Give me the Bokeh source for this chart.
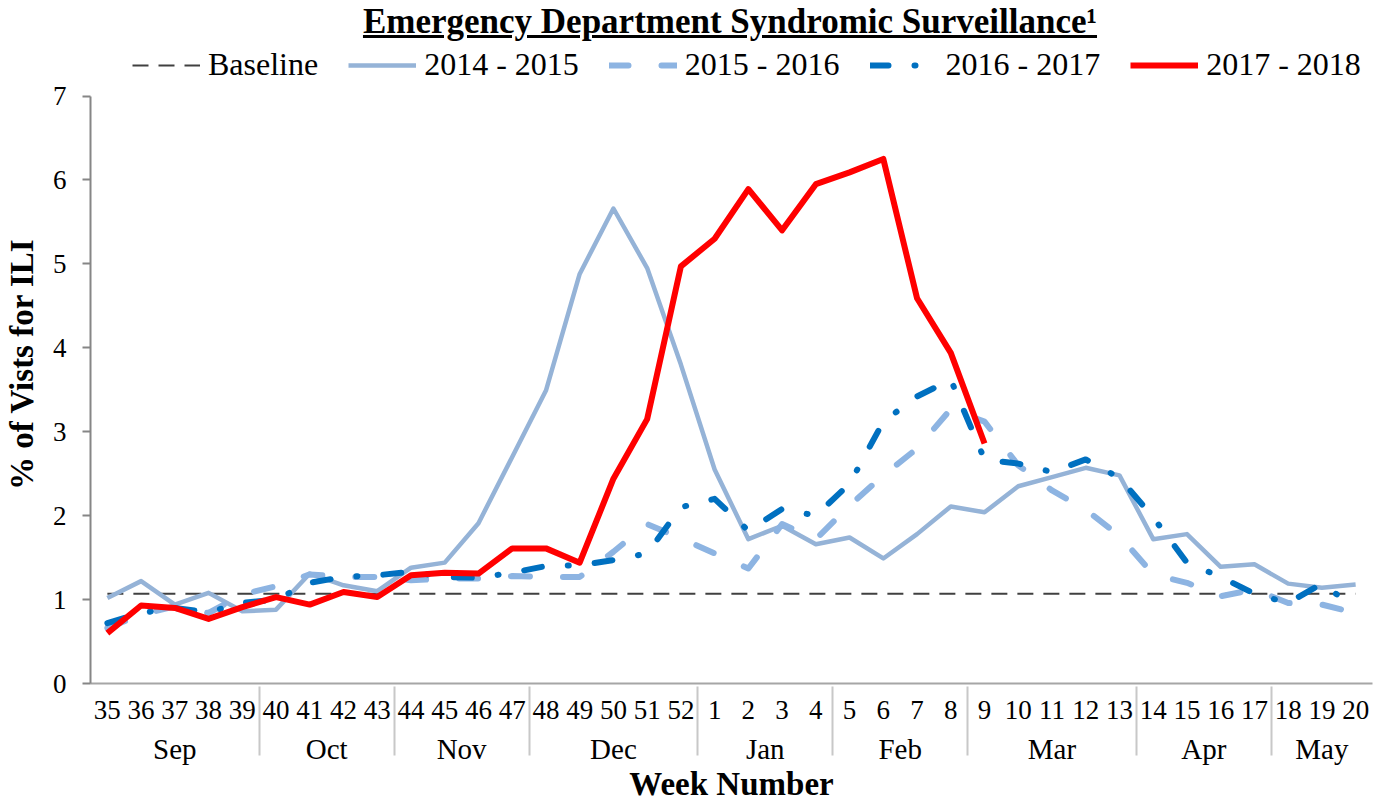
from bokeh.plotting import figure
from bokeh.models import FactorRange, Range1d, FixedTicker, Legend, LegendItem, Div
from bokeh.layouts import column
from bokeh.embed import file_html
from bokeh.resources import INLINE

WEEKS = ["35", "36", "37", "38", "39", "40", "41", "42", "43", "44", "45", "46", "47",
         "48", "49", "50", "51", "52", "1", "2", "3", "4", "5", "6", "7", "8", "9", "10",
         "11", "12", "13", "14", "15", "16", "17", "18", "19", "20"]
MONTHS = ["Sep", "Sep", "Sep", "Sep", "Sep", "Oct", "Oct", "Oct", "Oct", "Nov", "Nov", "Nov", "Nov",
          "Dec", "Dec", "Dec", "Dec", "Dec", "Jan", "Jan", "Jan", "Jan", "Feb", "Feb", "Feb", "Feb",
          "Mar", "Mar", "Mar", "Mar", "Mar", "Apr", "Apr", "Apr", "Apr", "May", "May", "May"]

BASELINE = [1.07, 1.07, 1.07, 1.07, 1.07, 1.07, 1.07, 1.07, 1.07, 1.07, 1.07, 1.07, 1.07,
            1.07, 1.07, 1.07, 1.07, 1.07, 1.07, 1.07, 1.07, 1.07, 1.07, 1.07, 1.07, 1.07,
            1.07, 1.07, 1.07, 1.07, 1.07, 1.07, 1.07, 1.07, 1.07, 1.07, 1.07, 1.07]
S2014_2015 = [1.02, 1.22, 0.94, 1.08, 0.86, 0.88, 1.31, 1.17, 1.10, 1.38, 1.44, 1.91, 2.70,
              3.49, 4.88, 5.66, 4.95, 3.80, 2.55, 1.72, 1.88, 1.66, 1.74, 1.49, 1.78, 2.11,
              2.04, 2.35, 2.46, 2.57, 2.48, 1.72, 1.78, 1.39, 1.42, 1.19, 1.14, 1.18]
S2015_2016 = [0.66, 0.82, 0.92, 0.84, 1.06, 1.16, 1.30, 1.27, 1.27, 1.23, 1.25, 1.25, 1.28,
              1.27, 1.27, 1.57, 1.90, 1.73, 1.55, 1.37, 1.90, 1.72, 2.12, 2.48, 2.80, 3.27,
              3.12, 2.60, 2.30, 2.07, 1.76, 1.30, 1.20, 1.04, 1.12, 0.96, 0.94, 0.84]
S2016_2017 = [0.72, 0.84, 0.90, 0.85, 0.96, 1.00, 1.20, 1.27, 1.29, 1.33, 1.27, 1.26, 1.32,
              1.40, 1.41, 1.47, 1.55, 2.10, 2.20, 1.82, 2.08, 2.00, 2.38, 3.12, 3.42, 3.62,
              2.67, 2.62, 2.52, 2.67, 2.45, 1.98, 1.44, 1.27, 1.07, 0.96, 1.19, 0.90]
S2017_2018 = [0.60, 0.93, 0.90, 0.77, 0.91, 1.03, 0.94, 1.09, 1.03, 1.29, 1.32, 1.31, 1.61,
              1.61, 1.44, 2.44, 3.15, 4.97, 5.30, 5.89, 5.40, 5.95, 6.09, 6.25, 4.59, 3.94,
              2.86]

Y_TICKS = [0, 1, 2, 3, 4, 5, 6, 7]
Y_AXIS_BOUNDS = (0, 7)

FONT = "Liberation Serif"

factors = list(zip(MONTHS, WEEKS))

# the frame reaches above 7 to hold the legend; the y axis itself stops at 7
p = figure(width=1388, height=760,
           x_range=FactorRange(*factors, factor_padding=0, group_padding=0,
                               subgroup_padding=0, range_padding=0),
           y_range=Range1d(0, 7.614),
           output_backend="svg", toolbar_location=None,
           min_border_left=90, min_border_right=16, min_border_top=0, min_border_bottom=100)

p.outline_line_color = None
p.xgrid.visible = False
p.ygrid.visible = False
p.border_fill_alpha = 0

r_base = p.line(factors, BASELINE, line_color="#404040", line_width=2, line_dash="16 10")
r14 = p.line(factors, S2014_2015, line_color="#95B3D7", line_width=4.5, line_join="round")
r15 = p.line(factors, S2015_2016, line_color="#8DB4E2", line_width=6, line_dash="19 33",
             line_cap="round", line_join="round")
r16 = p.line(factors, S2016_2017, line_color="#0070C0", line_width=6, line_dash="18 26 1 26",
             line_cap="round", line_join="round")
r17 = p.line(factors[:len(S2017_2018)], S2017_2018, line_color="#FF0000", line_width=6,
             line_join="round")

# y axis
yax = p.yaxis[0]
yax.bounds = Y_AXIS_BOUNDS
yax.ticker = FixedTicker(ticks=Y_TICKS)
yax.minor_tick_line_color = None
yax.major_tick_in = 0
yax.major_tick_out = 8
yax.major_tick_line_color = "#868686"
yax.major_tick_line_width = 2
yax.axis_line_color = "#868686"
yax.axis_line_width = 2
yax.major_label_text_font = FONT
yax.major_label_text_font_size = "27px"
yax.major_label_text_color = "#000000"
yax.major_label_standoff = 16
yax.axis_label = "% of Vists for ILI"
yax.axis_label_text_font = FONT
yax.axis_label_text_font_size = "33px"
yax.axis_label_text_font_style = "bold"
yax.axis_label_text_color = "#000000"
yax.axis_label_standoff = 10

# x axis
xax = p.xaxis[0]
xax.major_tick_line_color = None
xax.minor_tick_line_color = None
xax.axis_line_color = "#A6A6A6"
xax.axis_line_width = 2
xax.major_label_text_font = FONT
xax.major_label_text_font_size = "27px"
xax.major_label_text_color = "#000000"
xax.major_label_standoff = 11
xax.group_text_font = FONT
xax.group_text_font_size = "29px"
xax.group_text_font_style = "normal"
xax.group_text_color = "#000000"
xax.separator_line_color = "#C8C8C8"
xax.separator_line_width = 2
xax.axis_label = "Week Number"
xax.axis_label_text_font = FONT
xax.axis_label_text_font_size = "33px"
xax.axis_label_text_font_style = "bold"
xax.axis_label_text_color = "#000000"
xax.axis_label_standoff = -2

legend = Legend(items=[
    LegendItem(label="Baseline", renderers=[r_base]),
    LegendItem(label="2014 - 2015", renderers=[r14]),
    LegendItem(label="2015 - 2016", renderers=[r15]),
    LegendItem(label="2016 - 2017", renderers=[r16]),
    LegendItem(label="2017 - 2018", renderers=[r17]),
], orientation="horizontal", location=(42, 600))
legend.label_text_font = FONT
legend.label_text_font_size = "32px"
legend.label_text_color = "#000000"
legend.glyph_width = 68
legend.glyph_height = 24
legend.label_standoff = 8
legend.spacing = 30
legend.padding = 2
legend.margin = 0
legend.border_line_color = None
legend.background_fill_alpha = 0
p.add_layout(legend)

title = Div(text=('<div style="width:1388px;box-sizing:border-box;padding-left:72px;'
                  'font-family:\'Liberation Serif\';font-weight:bold;'
                  'font-size:35px;line-height:44px;text-decoration:underline;text-align:center;'
                  'white-space:nowrap;color:#000;">'
                  'Emergency Department Syndromic Surveillance\u00b9</div>'),
            width=1388, height=44, margin=(0, 0, 0, 0))

layout = column(title, p, spacing=0)

open("out.html", "w").write(file_html(layout, INLINE))
